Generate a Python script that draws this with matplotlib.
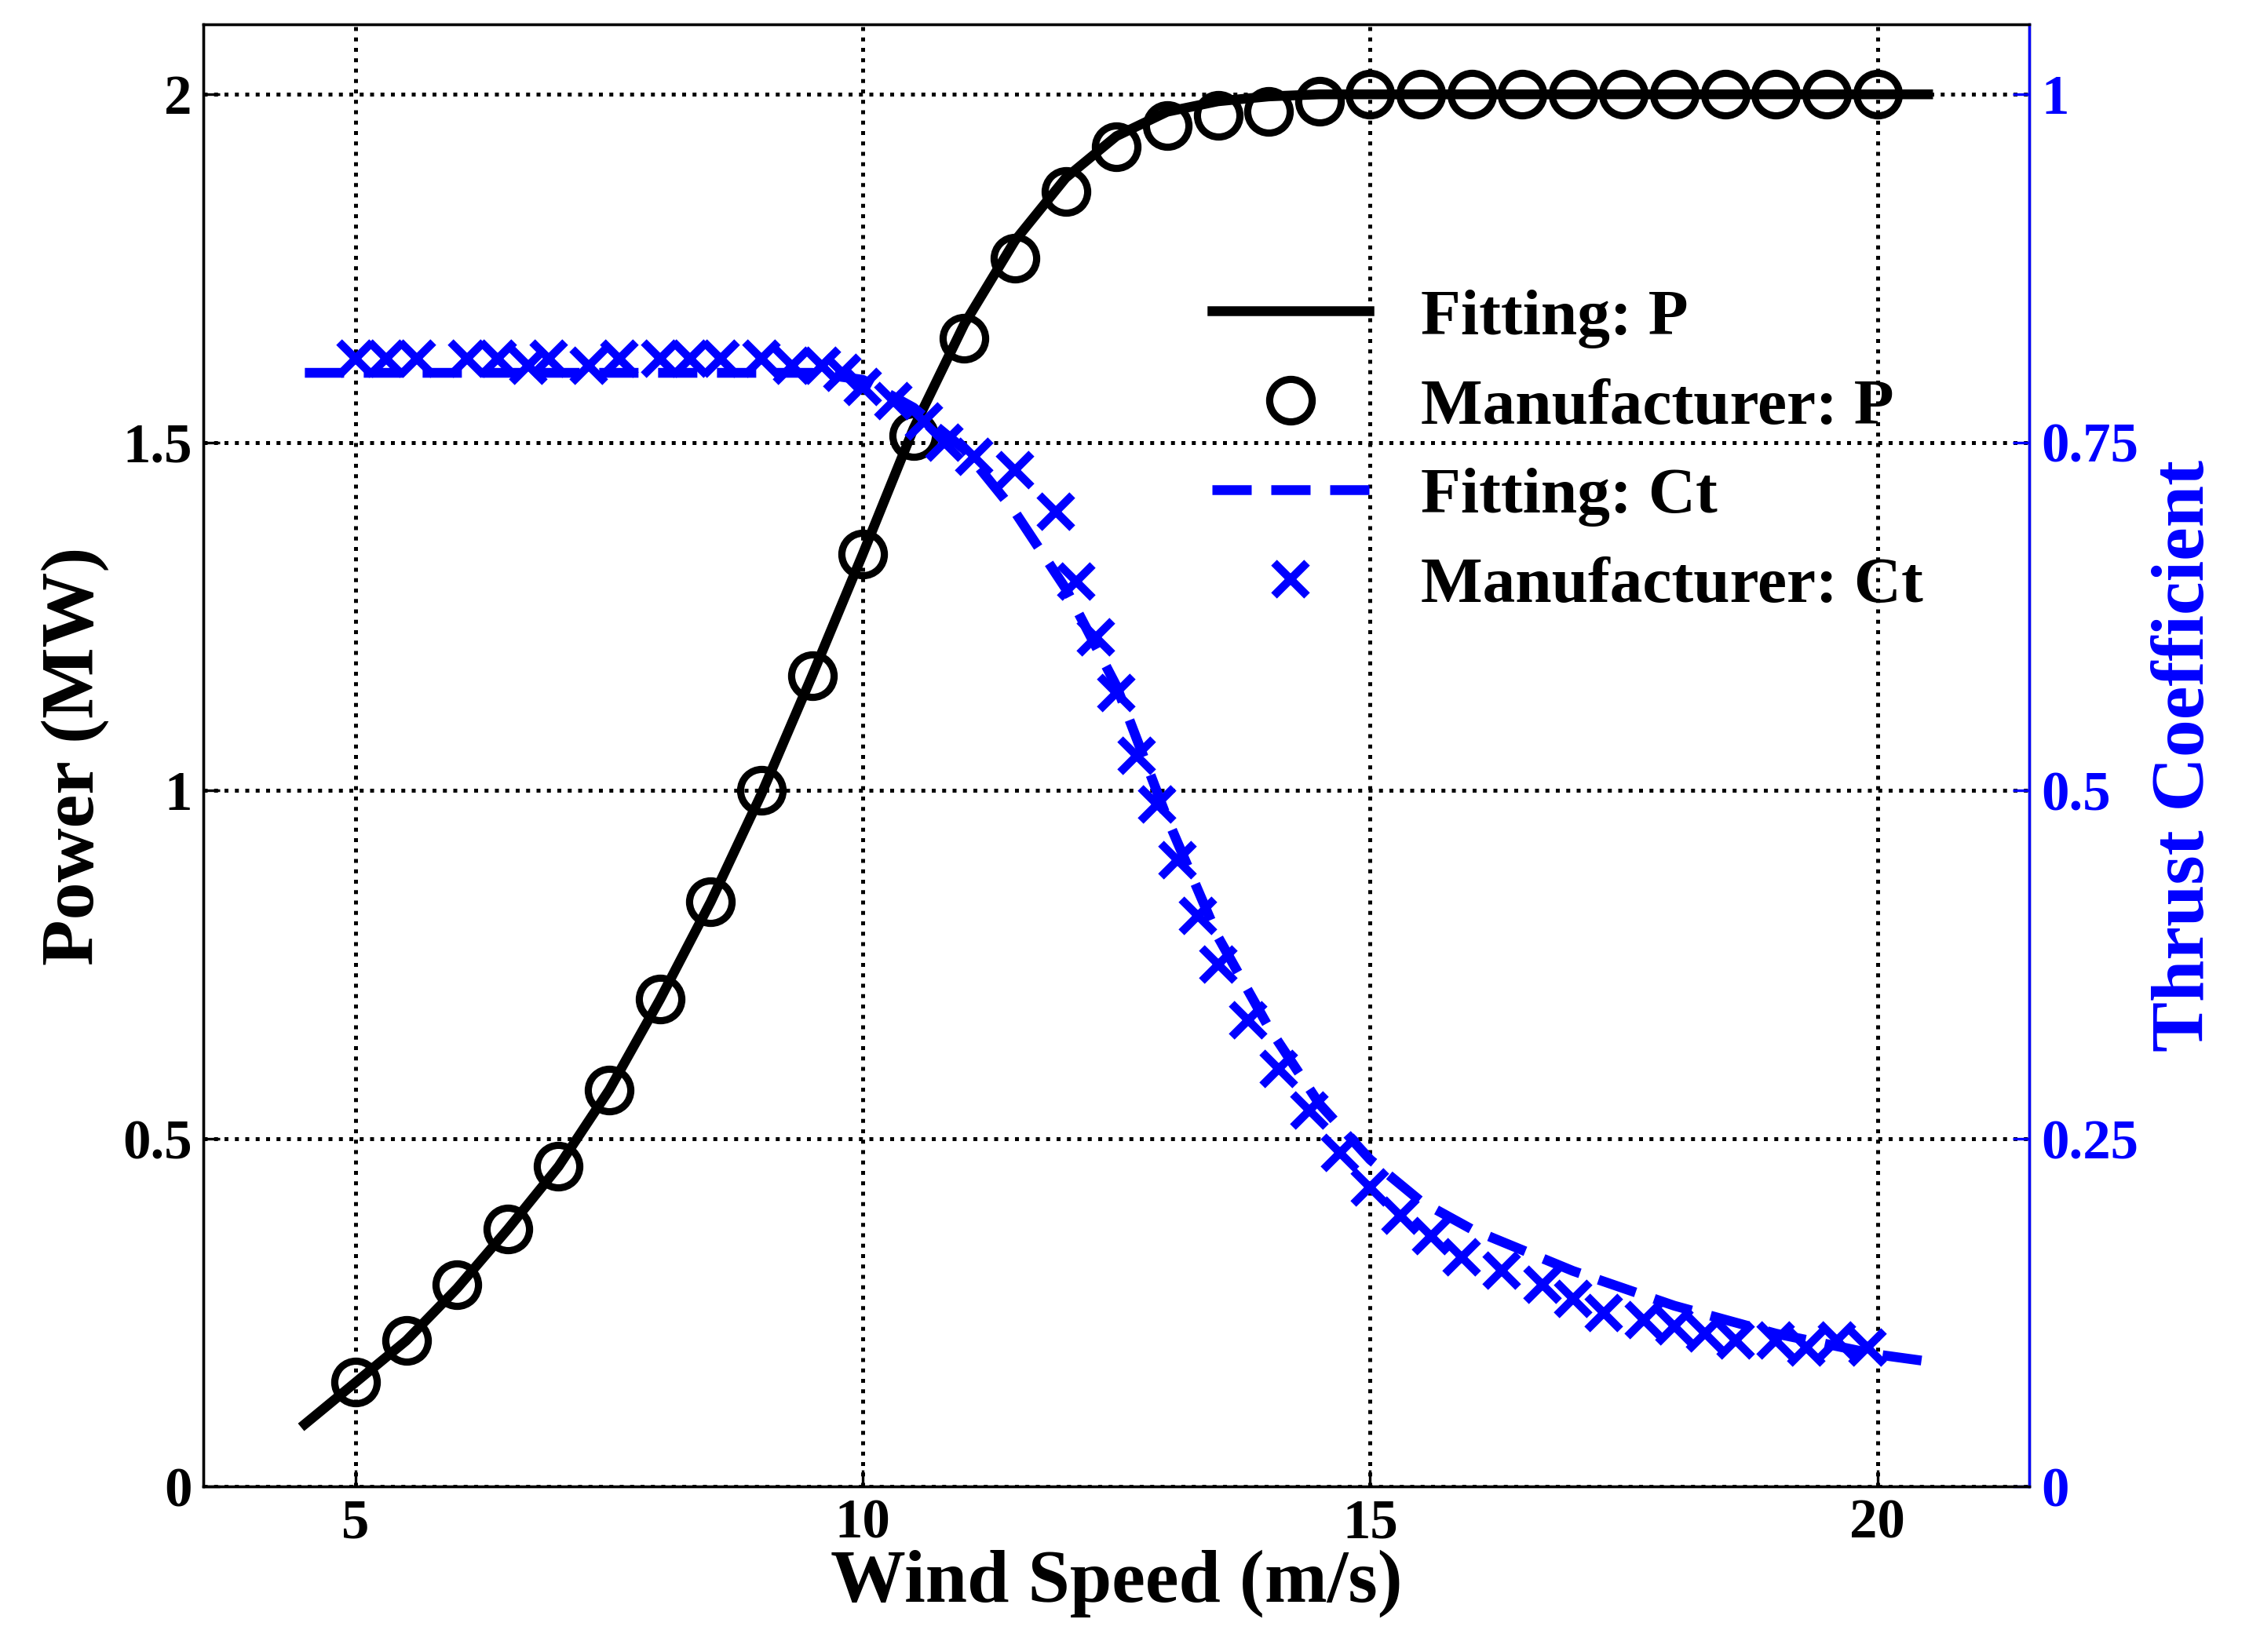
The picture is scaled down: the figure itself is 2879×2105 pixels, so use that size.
import matplotlib.pyplot as plt

plt.rcParams['font.family'] = ['Liberation Serif', 'DejaVu Serif']
plt.rcParams['font.weight'] = 'bold'

# manufacturer power curve
ws_p = [5, 5.5, 6, 6.5, 7, 7.5, 8, 8.5, 9, 9.5, 10, 10.5, 11, 11.5, 12, 12.5, 13,
        13.5, 14, 14.5, 15, 15.5, 16, 16.5, 17, 17.5, 18, 18.5, 19, 19.5, 20]
power_man = [0.15, 0.21, 0.29, 0.37, 0.46, 0.57, 0.70, 0.84, 1.0, 1.165, 1.34, 1.51,
             1.65, 1.765, 1.86, 1.925, 1.955, 1.97, 1.975, 1.99, 2.0, 2.0, 2.0, 2.0,
             2.0, 2.0, 2.0, 2.0, 2.0, 2.0, 2.0]

# fitted power curve
ws_fit = [4.5, 5, 5.5, 6, 6.5, 7, 7.5, 8, 8.5, 9, 9.5, 10, 10.5, 11, 11.5, 12, 12.5,
          13, 13.5, 14, 14.5, 15, 16, 17, 18, 19, 20, 20.5]
power_fit = [0.09, 0.15, 0.21, 0.285, 0.37, 0.46, 0.57, 0.70, 0.84, 0.995, 1.165, 1.34,
             1.52, 1.67, 1.79, 1.88, 1.94, 1.975, 1.99, 1.997, 2.0, 2.0, 2.0, 2.0,
             2.0, 2.0, 2.0, 2.0]

# manufacturer thrust coefficient
ws_ct = [5.0, 5.3, 5.6, 6.1, 6.4, 6.7, 6.9, 7.3, 7.6, 8.0, 8.3, 8.6, 9.0, 9.3, 9.6,
         9.8, 10.0, 10.3, 10.6, 10.8, 11.1, 11.5, 11.9, 12.1, 12.3, 12.5, 12.7, 12.9,
         13.1, 13.3, 13.5, 13.8, 14.1, 14.4, 14.7, 15.0, 15.3, 15.6, 15.9, 16.3,
         16.7, 17.0, 17.3, 17.7, 18.0, 18.3, 18.6, 19.0, 19.3, 19.6, 19.9]
ct_man = [0.81, 0.81, 0.81, 0.81, 0.81, 0.805, 0.81, 0.805, 0.81, 0.81, 0.81, 0.81,
          0.81, 0.805, 0.805, 0.80, 0.79, 0.78, 0.765, 0.75, 0.74, 0.73, 0.70, 0.65,
          0.61, 0.57, 0.525, 0.49, 0.45, 0.41, 0.375, 0.335, 0.30, 0.27, 0.24, 0.215,
          0.195, 0.18, 0.165, 0.155, 0.145, 0.135, 0.125, 0.12, 0.115, 0.11, 0.105,
          0.105, 0.10, 0.105, 0.10]

# fitted thrust coefficient
ws_ctfit = [4.5, 6, 8, 9, 9.5, 10, 10.5, 11, 11.5, 12, 12.5, 13, 13.5, 14, 14.5,
            15, 15.5, 16, 17, 18, 19, 20, 20.5]
ct_fit = [0.80, 0.80, 0.80, 0.80, 0.80, 0.795, 0.775, 0.745, 0.70, 0.645, 0.575,
          0.48, 0.395, 0.33, 0.275, 0.235, 0.205, 0.185, 0.155, 0.13, 0.11, 0.095, 0.09]

fig = plt.figure(figsize=(9.597, 7.017), dpi=300)
ax = fig.add_axes([0.09, 0.1, 0.808, 0.885])
ax2 = ax.twinx()

l1, = ax.plot(ws_fit, power_fit, '-', color='black', lw=3, label='Fitting: P')
l2, = ax.plot(ws_p, power_man, 'o', mfc='none', mec='black', mew=2.2, ms=13,
              label='Manufacturer: P')
l3, = ax2.plot(ws_ctfit, ct_fit, '--', color='blue', lw=3, dashes=(4, 2),
               label='Fitting: Ct')
l4, = ax2.plot(ws_ct, ct_man, 'x', color='blue', mew=2.5, ms=10,
               label='Manufacturer: Ct')

ax.set_xlim(3.5, 21.5)
ax.set_ylim(0, 2.1)
ax2.set_ylim(0, 1.05)
ax.set_xticks([5, 10, 15, 20])
ax.set_yticks([0, 0.5, 1, 1.5, 2])
ax.set_yticklabels(['0', '0.5', '1', '1.5', '2'])
ax2.set_yticks([0, 0.25, 0.5, 0.75, 1])
ax2.set_yticklabels(['0', '0.25', '0.5', '0.75', '1'])
ax.grid(True, ls=':', color='black', lw=1.2)
ax.tick_params(direction='in', labelsize=17, length=5)
ax2.tick_params(direction='in', labelsize=17, length=5, colors='blue')
ax2.spines['right'].set_color('blue')

ax.set_xlabel('Wind Speed (m/s)', fontsize=23, fontweight='bold', labelpad=0)
ax.set_ylabel('Power (MW)', fontsize=23, fontweight='bold', labelpad=4)
ax2.set_ylabel('Thrust Coefficient', fontsize=23, fontweight='bold', color='blue')

leg = ax.legend(handles=[l1, l2, l3, l4], loc='upper left',
                bbox_to_anchor=(0.52, 0.86), frameon=False, fontsize=20,
                handlelength=2.4, labelspacing=0.45)

fig.savefig('out.png', dpi=300)
